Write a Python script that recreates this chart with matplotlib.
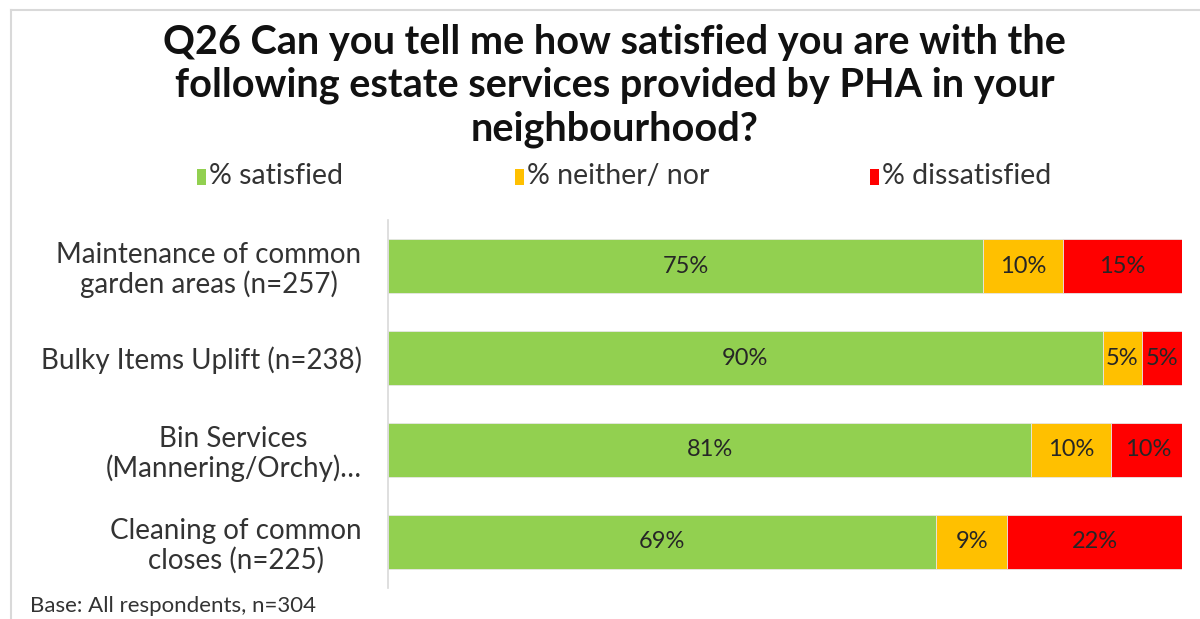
import matplotlib
matplotlib.use("Agg")
import matplotlib.pyplot as plt
from matplotlib.patches import Rectangle
from matplotlib.lines import Line2D

categories = ["Maintenance of common\ngarden areas (n=257)",
              "Bulky Items Uplift (n=238)",
              "Bin Services\n(Mannering/Orchy)\u2026",
              "Cleaning of common\ncloses (n=225)"]
series_names = ["% satisfied", "% neither/ nor", "% dissatisfied"]
satisfied = [75, 90, 81, 69]
neither = [10, 5, 10, 9]
dissatisfied = [15, 5, 9.6, 22]
colors = ["#92D050", "#FFC000", "#FF0000"]

title_lines = ["Q26 Can you tell me how satisfied you are with the",
               "following estate services provided by PHA in your",
               "neighbourhood?"]
footnote = "Base: All respondents, n=304"

plt.rcParams['font.family'] = ['Lato', 'DejaVu Sans']

fig = plt.figure(figsize=(12, 6.19), dpi=100)
ax = fig.add_axes([388/1200, 1-588/619, (1182-388)/1200, (588-220)/619])

ypos = list(range(len(categories)))
left = [0]*len(categories)
for vals, col in zip([satisfied, neither, dissatisfied], colors):
    ax.barh(ypos, vals, left=left, height=0.58, color=col,
            edgecolor="#e6e6e6", linewidth=0.6)
    for y, v, l in zip(ypos, vals, left):
        ax.text(l + v/2, y, f"{round(v)}%", ha="center", va="center",
                fontsize=17, color="#262626")
    left = [a+b for a, b in zip(left, vals)]

ax.set_xlim(0, 100)
ax.set_ylim(3.5, -0.5)
ax.set_yticks(ypos)
ax.set_yticklabels(categories, fontsize=20, color="#333333",
                   multialignment="center", linespacing=1.12)
ax.tick_params(axis="y", length=0, pad=19)
ax.set_xticks([])
for s in ["top", "right", "bottom"]:
    ax.spines[s].set_visible(False)
ax.spines["left"].set_color("#d9d9d9")
ax.spines["left"].set_linewidth(1.2)

for i, line in enumerate(title_lines):
    fig.text(0.512, 1-(54+43*i)/619, line, ha="center", va="baseline",
             fontsize=28.5, fontweight="bold", color="#111111")

leg_x = [197, 515, 870]
for h_x, name, col in zip(leg_x, series_names, colors):
    fig.patches.append(Rectangle((h_x/1200, 1-185/619), 9/1200, 16/619,
                                 transform=fig.transFigure, facecolor=col,
                                 edgecolor="none"))
    fig.text((h_x+12)/1200, 1-176/619, name, ha="left", va="center",
             fontsize=20.5, color="#333333")

fig.text(30/1200, 1-606/619, footnote, ha="left", va="center",
         fontsize=16, color="#333333")

# frame lines
fig.add_artist(Line2D([11/1200, 11/1200], [0, 1-10/619],
                      transform=fig.transFigure, color="#d9d9d9", lw=1.5))
fig.add_artist(Line2D([11/1200, 1], [1-10/619, 1-10/619],
                      transform=fig.transFigure, color="#d9d9d9", lw=1.5))

fig.savefig("out.png", dpi=100, facecolor="white")
